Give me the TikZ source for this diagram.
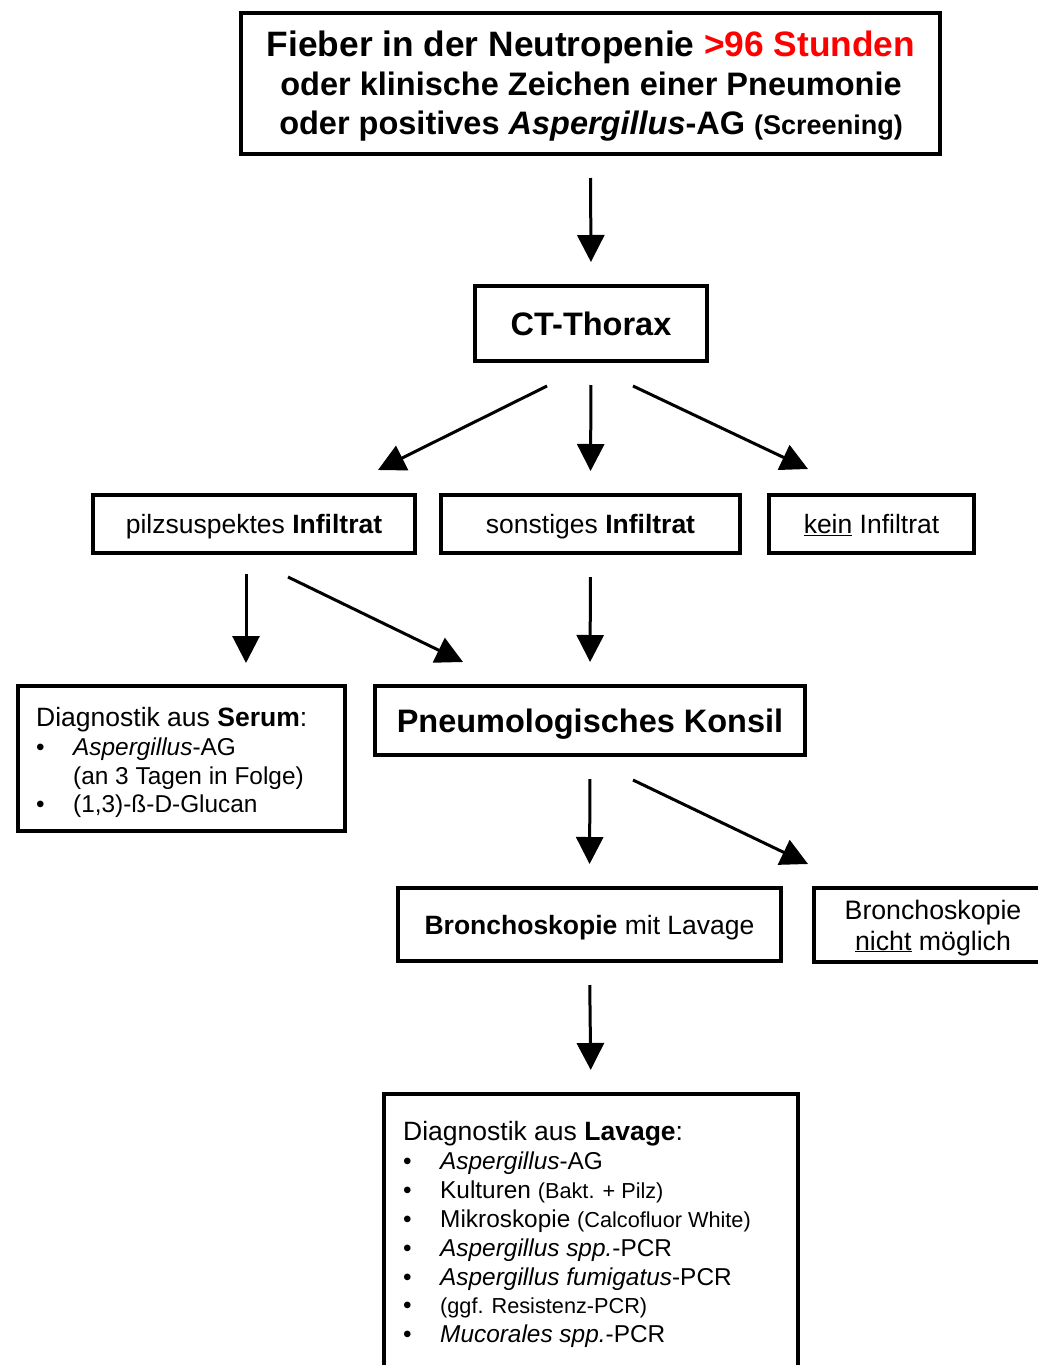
\documentclass[tikz,border=0pt]{standalone}
\usepackage{fontspec}
\setmainfont{Liberation Sans}
\usetikzlibrary{arrows.meta}
\definecolor{titlered}{RGB}{255,0,0}
\newcommand\bodyfnt{\fontsize{26.5}{29.5}\selectfont}
\newcommand\listfnt{\fontsize{24.4}{29}\selectfont}
\newcommand\smallfnt{\fontsize{21.7}{24}\selectfont}
\newcommand\bulA{\makebox[37pt][l]{•}}
\begin{document}
\begin{tikzpicture}[x=1pt,y=-1pt,
  box/.style={draw=black, line width=4pt, fill=white, inner sep=0pt, align=center, font=\bodyfnt, text height=19pt, text depth=0pt},
  bigbold/.style={font=\bfseries\fontsize{32.5}{40}\selectfont, text height=24pt, text depth=0pt},
  arr/.style={line width=3pt, -{Triangle[length=27pt,width=27pt]}},
  varr/.style={arr, shorten <=22pt, shorten >=22pt},
  txt/.style={inner sep=0pt, anchor=base west, font=\bodyfnt},
  ltxt/.style={inner sep=0pt, anchor=base west, font=\listfnt},
  ttl/.style={inner sep=0pt, anchor=base, font=\bfseries\fontsize{32.5}{40}\selectfont},
]
\useasboundingbox (0,0) rectangle (1038,1365);
\clip (0,0) rectangle (1038,1365);
\fill[white] (0,0) rectangle (1038,1365);

% boxes
\node[box, minimum width=699pt, minimum height=141pt] (top) at (590.5,83.5) {};
\node[ttl, font=\bfseries\fontsize{35.3}{40}\selectfont] (t1) at (591,56) {Fieber in der Neutropenie \textcolor{titlered}{>96 Stunden}};
\node[ttl] (t2) at (591,95) {oder klinische Zeichen einer Pneumonie};
\node[ttl] (t3) at (591,134) {oder positives \textit{Aspergillus}-AG {\fontsize{27}{40}\selectfont(Screening)}};

\node[box, bigbold, minimum width=232pt, minimum height=75pt] (ct) at (591,323.5) {CT-Thorax};
\node[box, minimum width=322pt, minimum height=58pt] (pilz) at (254,524) {pilzsuspektes \textbf{Infiltrat}};
\node[box, minimum width=299pt, minimum height=58pt] (sonst) at (590.5,524) {sonstiges \textbf{Infiltrat}};
\node[box, minimum width=205pt, minimum height=58pt] (kein) at (871.5,524) {\underline{kein} Infiltrat};
\node[box, minimum width=327pt, minimum height=145pt] (serum) at (181.5,758.5) {};
\node[box, bigbold, minimum width=430pt, minimum height=69pt] (konsil) at (590,720.5) {Pneumologisches Konsil};
\node[box, minimum width=383pt, minimum height=73pt] (broncho) at (589.5,924.5) {\textbf{Bronchoskopie} mit Lavage};
\node[box, minimum width=238pt, minimum height=74pt, font=\fontsize{26.7}{31}\selectfont, text height=50pt, text depth=0pt] (nicht) at (933,925) {Bronchoskopie\\ \underline{nicht} möglich};
\node[box, minimum width=414pt, minimum height=304pt] (lavage) at (591,1246) {};

% serum text
\node[txt] (s1) at (36,726) {Diagnostik aus \textbf{Serum}:};
\node[ltxt] (s2) at (36,755) {\bulA\textit{Aspergillus}-AG};
\node[ltxt] (s3) at (73,784) {(an 3 Tagen in Folge)};
\node[ltxt] (s4) at (36,812) {\bulA(1,3)-ß-D-Glucan};

% lavage text
\node[txt] (l1) at (403,1140) {Diagnostik aus \textbf{Lavage}:};
\node[ltxt] (l2) at (403,1169) {\bulA\textit{Aspergillus}-AG};
\node[ltxt] (l3) at (403,1198) {\bulA Kulturen {\smallfnt(Bakt. + Pilz)}};
\node[ltxt] (l4) at (403,1227) {\bulA Mikroskopie {\smallfnt(Calcofluor White)}};
\node[ltxt] (l5) at (403,1256) {\bulA\textit{Aspergillus spp.}-PCR};
\node[ltxt] (l6) at (403,1285) {\bulA\textit{Aspergillus fumigatus}-PCR};
\node[ltxt] (l7) at (403,1313) {\bulA{\smallfnt(ggf. Resistenz-PCR)}};
\node[ltxt] (l8) at (403,1342) {\bulA\textit{Mucorales spp.}-PCR};

% arrow end points for off-axis connectors
\coordinate (ctL) at (547,386);   \coordinate (pilzT) at (378,470);
\coordinate (ctR) at (633,386);   \coordinate (keinT) at (808,469);
\coordinate (pilzB) at (246,574); \coordinate (serumT) at (246,663);
\coordinate (pilzR) at (288,577); \coordinate (konsilT) at (463,662);
\coordinate (konsilR) at (633,780); \coordinate (nichtT) at (808,864);

% connectors
\draw[varr] (top.south) -- (ct.north);
\draw[varr] (ct.south) -- (sonst.north);
\draw[arr] (ctL) -- (pilzT);
\draw[arr] (ctR) -- (keinT);
\draw[arr] (pilzB) -- (serumT);
\draw[arr] (pilzR) -- (konsilT);
\draw[varr] (sonst.south) -- (konsil.north);
\draw[varr] (konsil.south) -- (broncho.north);
\draw[arr] (konsilR) -- (nichtT);
\draw[varr] (broncho.south) -- (lavage.north);
\end{tikzpicture}
\end{document}
